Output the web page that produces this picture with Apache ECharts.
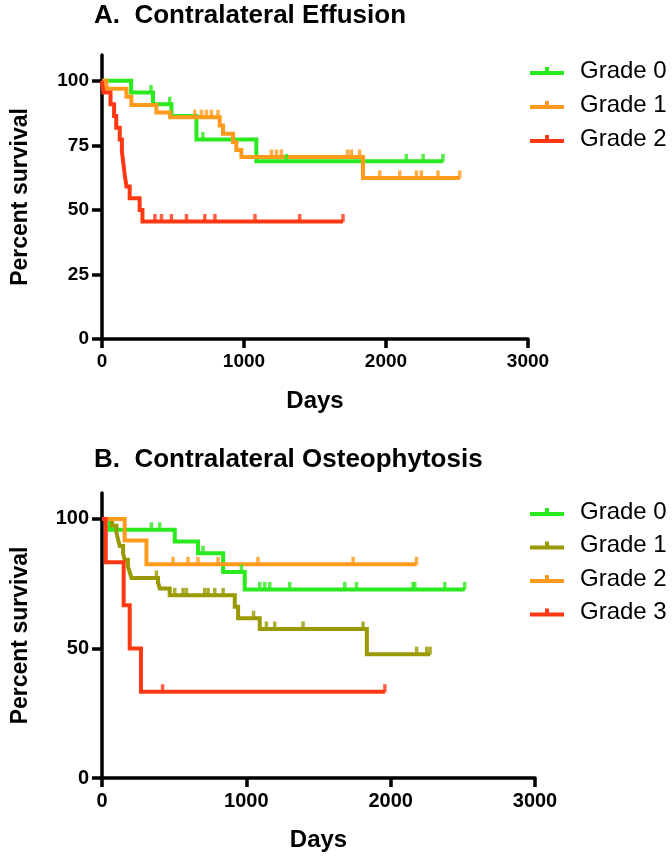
<!DOCTYPE html>
<html><head><meta charset="utf-8">
<script src="https://cdn.jsdelivr.net/npm/echarts@6/dist/echarts.min.js"></script>
<style>html,body{margin:0;padding:0;background:#fff}#c{width:672px;height:859px}</style>
</head><body><div id="c"></div>
<script>
// ---------- Panel A: Contralateral Effusion ----------
const aNames = ['Grade 0', 'Grade 1', 'Grade 2'];
const aG0Days = [0, 205, 359, 489, 665, 1087, 2401];
const aG0Surv = [100, 95.5, 90.9, 86.4, 77.3, 68.8, 68.8];
const aG0Cens = [345, 477, 710, 1298, 2143, 2261, 2401];

const aG1Days = [0, 31, 172, 207, 383, 480, 829, 852, 923, 946, 982, 1838, 2519];
const aG1Surv = [100, 96.9, 93.8, 90.6, 87.7, 85.9, 82.7, 79.5, 76.3, 73.2, 70.5, 62.4, 62.4];
const aG1Cens = [653, 700, 735, 770, 817, 1193, 1228, 1263, 1730, 1756, 1814, 1956, 2097, 2214, 2249, 2366, 2519];

const aG2Days = [0, 10, 60, 85, 100, 125, 140, 150, 160, 172, 195, 265, 285, 1697];
const aG2Surv = [100, 95.5, 90.9, 86.4, 81.8, 77.3, 72.7, 68.2, 63.6, 59.1, 54.5, 50, 45.5, 45.5];
const aG2Cens = [373, 419, 489, 595, 724, 795, 1077, 1392, 1697];

// ---------- Panel B: Contralateral Osteophytosis ----------
const bNames = ['Grade 0', 'Grade 1', 'Grade 2', 'Grade 3'];
const bG0Days = [0, 53, 504, 665, 839, 989, 2513];
const bG0Surv = [100, 95.8, 91.3, 86.7, 79.5, 72.8, 72.8];
const bG0Cens = [342, 400, 700, 966, 1093, 1128, 1162, 1301, 1682, 1763, 2155, 2167, 2375, 2513];

const bG1Days = [0, 70, 100, 111, 123, 146, 157, 180, 192, 204, 388, 400, 469, 920, 943, 1093, 1835, 2273];
const bG1Surv = [100, 97.4, 94.7, 92.1, 89.5, 86.8, 84.2, 81.6, 79.4, 77.2, 75.5, 73.1, 70.5, 66.1, 61.7, 57.5, 47.8, 47.8];
const bG1Cens = [377, 504, 561, 585, 712, 735, 781, 839, 1050, 1139, 1197, 1393, 1809, 2180, 2250, 2273];

const bG2Days = [0, 157, 308, 2179];
const bG2Surv = [100, 91.7, 82.5, 82.5];
const bG2Cens = [492, 596, 665, 804, 1081, 1740, 2179];

const bG3Days = [0, 26, 150, 192, 270, 1960];
const bG3Surv = [100, 83.3, 66.7, 50, 33.3, 33.3];
const bG3Cens = [420, 1960];

// axes
const xTicks = [0, 1000, 2000, 3000];
const yTicksA = [0, 25, 50, 75, 100];
const yTicksB = [0, 50, 100];
const titleA = 'A.  Contralateral Effusion';
const titleB = 'B.  Contralateral Osteophytosis';
const xName = 'Days';
const yName = 'Percent survival';

// ---------- styling ----------
const GREEN = '#2aea1e', ORANGE = '#ff9a1c', RED = '#ff3814', OLIVE = '#9a9a00';
const FONT = '"Liberation Sans", Arial, Helvetica, sans-serif';

function survAt(days, surv, d) {
  let s = surv[0];
  for (let i = 0; i < days.length; i++) { if (days[i] <= d) s = surv[i]; }
  return s;
}
function km(prefix, name, color, days, surv, cens, gi) {
  const id = prefix + '|' + name;
  return [
    { name: id, type: 'line', step: 'end', xAxisIndex: gi, yAxisIndex: gi,
      data: days.map((d, i) => [d, surv[i]]), symbol: 'none', color: color,
      lineStyle: { width: 4, color: color, cap: 'butt', join: 'miter' }, z: 3, silent: true },
    { name: id, type: 'scatter', xAxisIndex: gi, yAxisIndex: gi,
      data: cens.map(d => [d, survAt(days, surv, d)]), symbol: 'rect',
      symbolSize: [3.5, 8], symbolOffset: [0, -3.5], color: color,
      itemStyle: { color: color }, z: 3, silent: true }
  ];
}

function xAxisCfg(gi, fs) {
  return { type: 'value', gridIndex: gi, min: 0, max: 3000, interval: 1000,
    name: xName, nameLocation: 'middle', nameGap: 50,
    nameTextStyle: { fontFamily: FONT, fontWeight: 'bold', fontSize: 24, color: '#000' },
    axisLine: { lineStyle: { color: '#000', width: 3.5 } },
    axisTick: { length: 9, customValues: xTicks, lineStyle: { color: '#000', width: 3.5 } },
    axisLabel: { margin: 13, customValues: xTicks, formatter: v => String(v),
      fontFamily: FONT, fontWeight: 'bold', fontSize: fs, color: '#000' },
    splitLine: { show: false } };
}
function yAxisCfg(gi, ticks, fs) {
  return { type: 'value', gridIndex: gi, min: 0, max: 110,
    name: yName, nameLocation: 'middle', nameGap: 70,
    nameTextStyle: { fontFamily: FONT, fontWeight: 'bold', fontSize: 23, color: '#000' },
    axisLine: { show: true, lineStyle: { color: '#000', width: 3.5 } },
    axisTick: { show: true, length: 10, customValues: ticks, lineStyle: { color: '#000', width: 3.5 } },
    axisLabel: { margin: 13, customValues: ticks, formatter: v => String(v),
      fontFamily: FONT, fontWeight: 'bold', fontSize: fs, color: '#000' },
    splitLine: { show: false } };
}
const legendIcon = 'path://M0,4L34,4L34,8L0,8Z M15,0L19,0L19,4L15,4Z';
function legendCfg(prefix, names, top, gap) {
  return { data: names.map(n => prefix + '|' + n), orient: 'vertical', left: 525, top: top,
    icon: legendIcon, itemWidth: 34, itemHeight: 8, itemGap: gap, selectedMode: false,
    formatter: n => n.split('|')[1],
    textStyle: { fontFamily: FONT, fontSize: 24, color: '#000', padding: [0, 0, 0, 11] } };
}

const chart = echarts.init(document.getElementById('c'), null, { renderer: 'canvas' });
chart.setOption({
  animation: false,
  backgroundColor: '#fff',
  graphic: [
    { type: 'text', left: 94, top: 3, style: { text: titleA, font: 'bold 26px ' + FONT, fill: '#000' } },
    { type: 'text', left: 94, top: 447, style: { text: titleB, font: 'bold 26px ' + FONT, fill: '#000' } }
  ],
  grid: [
    { left: 102, top: 55, width: 426, height: 284 },
    { left: 102, top: 493, width: 433, height: 285 }
  ],
  xAxis: [xAxisCfg(0, 19), xAxisCfg(1, 20)],
  yAxis: [yAxisCfg(0, yTicksA, 19), yAxisCfg(1, yTicksB, 20)],
  legend: [legendCfg('A', aNames, 54, 10), legendCfg('B', bNames, 495, 9.5)],
  series: [
    ...km('A', aNames[0], GREEN, aG0Days, aG0Surv, aG0Cens, 0),
    ...km('A', aNames[1], ORANGE, aG1Days, aG1Surv, aG1Cens, 0),
    ...km('A', aNames[2], RED, aG2Days, aG2Surv, aG2Cens, 0),
    ...km('B', bNames[0], GREEN, bG0Days, bG0Surv, bG0Cens, 1),
    ...km('B', bNames[1], OLIVE, bG1Days, bG1Surv, bG1Cens, 1),
    ...km('B', bNames[2], ORANGE, bG2Days, bG2Surv, bG2Cens, 1),
    ...km('B', bNames[3], RED, bG3Days, bG3Surv, bG3Cens, 1)
  ]
});
</script></body></html>
